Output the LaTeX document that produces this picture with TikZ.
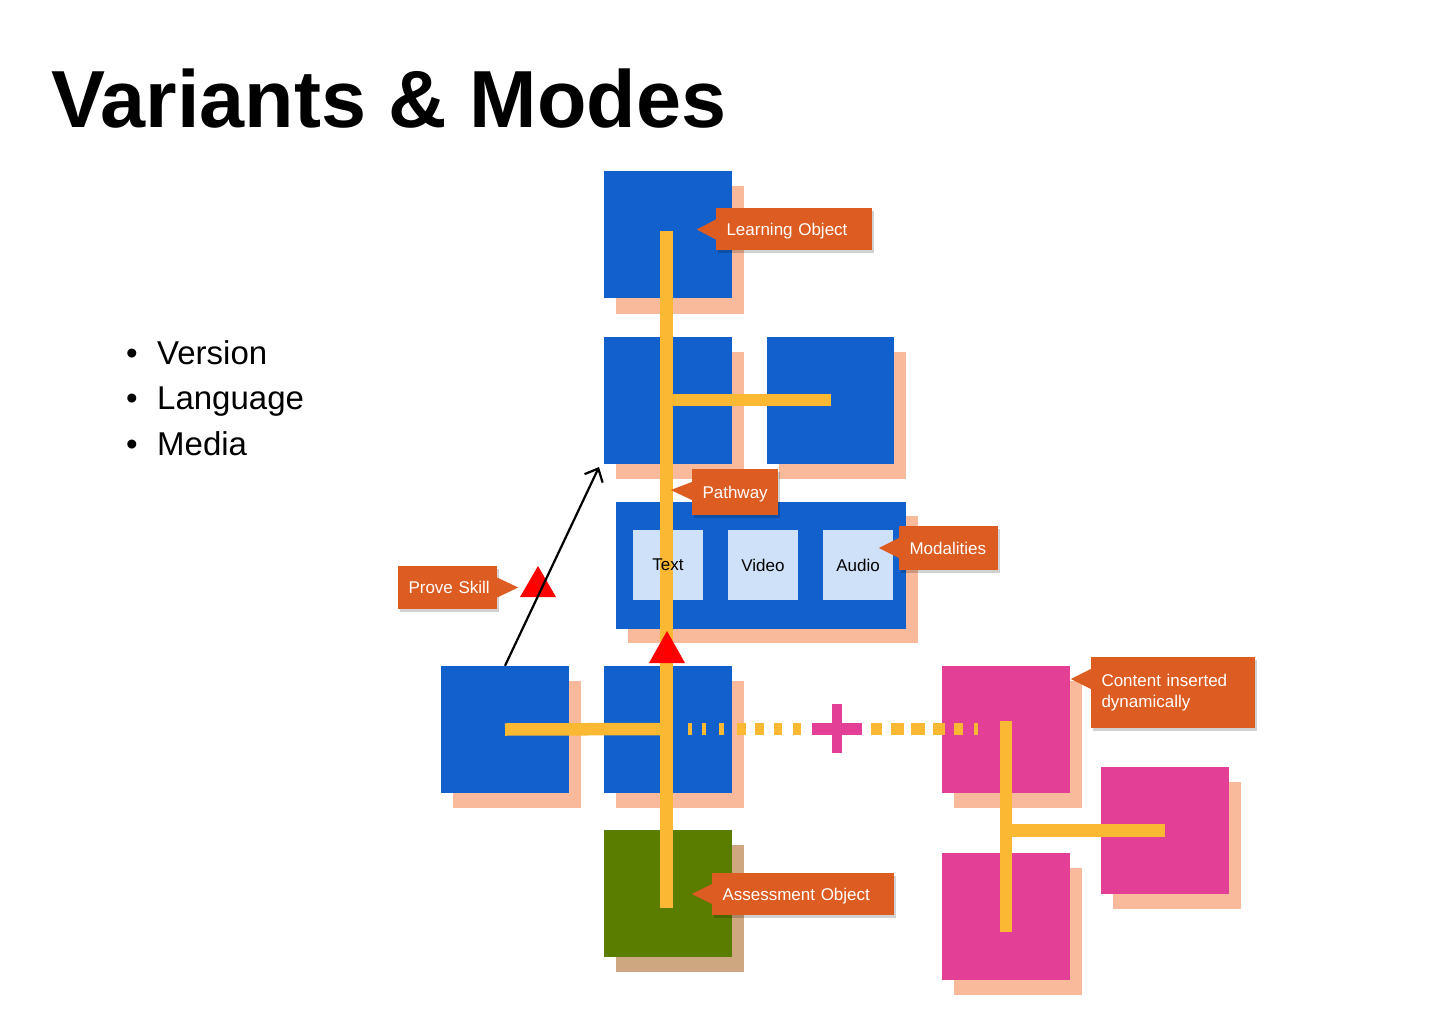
\documentclass[tikz,border=0pt]{standalone}
\usepackage{fontspec}
\setmainfont{Liberation Sans}
\usetikzlibrary{shadows,arrows.meta}
\definecolor{boxblue}{HTML}{1160CC}
\definecolor{peach}{HTML}{F9B99B}
\definecolor{lblorange}{HTML}{DD5C21}
\definecolor{pathyellow}{HTML}{FBB832}
\definecolor{boxpink}{HTML}{E33F96}
\definecolor{lightblue}{HTML}{CFE1F8}
\definecolor{boxgreen}{HTML}{5A7D00}
\definecolor{tan}{HTML}{CEA780}
\definecolor{trired}{HTML}{FF0000}
\begin{document}
\begin{tikzpicture}[x=1pt,y=-1pt,
  sq/.style={minimum width=128pt, minimum height=127pt, inner sep=0pt, draw=none,
    drop shadow={shadow xshift=12pt, shadow yshift=-15pt, fill=#1, opacity=1}},
  bluebox/.style={sq=peach, fill=boxblue},
  pinkbox/.style={sq=peach, fill=boxpink},
  greenbox/.style={sq=tan, fill=boxgreen},
  modbox/.style={fill=lightblue, minimum width=70pt, minimum height=70pt, inner sep=0pt},
  modtext/.style={font=\fontsize{17}{21}\selectfont, text=black, inner sep=0pt},
  lbl/.style={fill=lblorange, text=white, font=\fontsize{17}{21}\selectfont,
    inner xsep=10.5pt, inner ysep=0pt, align=left, text width=#1-21pt,
    drop shadow={shadow xshift=1.5pt, shadow yshift=-2.5pt, fill=black, opacity=.18}},
  oneline/.style={text height=12.2pt, text depth=0pt},
  lblptr/.style={fill=lblorange},
  pathline/.style={draw=pathyellow, line width=12.5pt},
  bullettext/.style={font=\fontsize{33}{40}\selectfont, anchor=base west, inner sep=0pt},
]
\useasboundingbox[fill=white] (0,0) rectangle (1440,1024);

% title and list
\node[font=\fontsize{81}{90}\selectfont\bfseries, anchor=base west, inner sep=0pt] (title) at (51,128) {Variants \& Modes};
\node[bullettext, anchor=base] (b1dot) at (132,364) {•};
\node[bullettext] (l1) at (157,364) {Version};
\node[bullettext, anchor=base] (b2dot) at (132,409.5) {•};
\node[bullettext] (l2) at (157,409.5) {Language};
\node[bullettext, anchor=base] (b3dot) at (132,455) {•};
\node[bullettext] (l3) at (157,455) {Media};

% blocks
\node[bluebox] (lo) at (668,235) {};
\node[bluebox] (r2a) at (668,400) {};
\node[bluebox, minimum width=127pt] (r2b) at (830.5,400) {};
\node[fill=boxblue, minimum width=290pt, minimum height=127pt, inner sep=0pt,
  drop shadow={shadow xshift=12pt, shadow yshift=-14pt, fill=peach, opacity=1}] (mod) at (761,565.5) {};
\node[modbox] (tbox) at (668,565) {};
\node[modbox] (vbox) at (763,565) {};
\node[modbox] (abox) at (858,565) {};
\node[bluebox] (b1) at (505,729.5) {};
\node[bluebox] (b2) at (668,729.5) {};
\node[greenbox] (ao) at (668,893.5) {};
\node[pinkbox] (p1) at (1006,729.5) {};
\node[pinkbox] (p2) at (1165,830.5) {};
\node[pinkbox] (p3) at (1006,916.5) {};

% pathway lines
\coordinate (ptop) at (666.5,231);
\coordinate (pbot) at (666.5,908);
\coordinate (pj2) at (666.5,400);
\coordinate (pj3) at (666.5,729);
\draw[pathline] (ptop) -- (pbot);
\draw[pathline] (pj2) -- (r2b.center);
\draw[pathline] (b1.center) -- (pj3);
\coordinate (qtop) at (1006,721);
\coordinate (qbot) at (1006,932);
\coordinate (qj) at (1006,830.5);
\draw[pathline] (qtop) -- (qbot);
\draw[pathline] (qj) -- (p2.center);

% dashed dynamic link
\coordinate (dstart) at (688,729);
\coordinate (dend) at (978,729);
\draw[draw=pathyellow, line width=12pt,
  dash pattern=on 4pt off 10pt on 4pt off 13pt on 5pt off 13pt on 9pt off 9pt on 9pt off 10pt on 8pt off 11pt on 8pt off 12pt on 10pt off 9pt on 10pt off 9pt on 10pt off 10pt on 11pt off 9pt on 13pt off 7pt on 14pt off 8pt on 12pt off 9pt on 9pt off 11pt on 4pt off 200pt]
  (dstart) -- (dend);
\coordinate (plus) at (837,729);
\fill[boxpink] ([xshift=-5pt,yshift=25pt]plus) rectangle ([xshift=5pt,yshift=-24pt]plus);
\fill[boxpink] ([xshift=-25pt,yshift=6pt]plus) rectangle ([xshift=25pt,yshift=-6pt]plus);

% modality texts
\node[modtext] (ttext) at (tbox) {Text};
\node[modtext] (vtext) at (vbox) {Video};
\node[modtext] (atext) at (abox) {Audio};

% red triangles
\coordinate (t1) at (538,566);
\fill[trired] (t1) -- ++(18,31) -- ++(-36,0) -- cycle;
\coordinate (t2) at (667,631);
\fill[trired] (t2) -- ++(18,32) -- ++(-36,0) -- cycle;

% arrow
\coordinate (atip) at (599,467);
\draw[line width=2.2pt, -{Straight Barb[length=11pt,width=20pt,line width=2.2pt]}] (b1.north) -- (atip);

% labels
\node[lbl=156pt, oneline, minimum height=42pt] (lol) at (794,229.5) {\mbox{Learning Object}};
\fill[lblptr] ([yshift=10pt]lol.west) -- ([xshift=-19pt]lol.west) -- ([yshift=-10pt]lol.west) -- cycle;

\node[lbl=86pt, oneline, minimum height=46pt] (pwl) at (735,492) {\mbox{Pathway}};
\fill[lblptr] ([yshift=10pt]pwl.west) -- ([xshift=-21pt,yshift=2pt]pwl.west) -- ([yshift=-8pt]pwl.west) -- cycle;

\node[lbl=99pt, oneline, minimum height=44pt] (mdl) at (948.5,548) {\mbox{Modalities}};
\fill[lblptr] ([yshift=10pt]mdl.west) -- ([xshift=-20pt]mdl.west) -- ([yshift=-10pt]mdl.west) -- cycle;

\node[lbl=99pt, oneline, minimum height=43pt] (psl) at (447.5,587.5) {\mbox{Prove Skill}};
\fill[lblptr] ([yshift=10pt]psl.east) -- ([xshift=21pt]psl.east) -- ([yshift=-10pt]psl.east) -- cycle;

\node[lbl=164pt, minimum height=71pt] (cil) at (1173,692.5) {Content inserted\\dynamically};
\fill[lblptr] ([yshift=23.5pt]cil.west) -- ([xshift=-20pt,yshift=13.5pt]cil.west) -- ([yshift=3.5pt]cil.west) -- cycle;

\node[lbl=182pt, oneline, minimum height=42pt] (aol) at (803,894) {\mbox{Assessment Object}};
\fill[lblptr] ([yshift=10pt]aol.west) -- ([xshift=-20pt]aol.west) -- ([yshift=-10pt]aol.west) -- cycle;
\end{tikzpicture}
\end{document}
